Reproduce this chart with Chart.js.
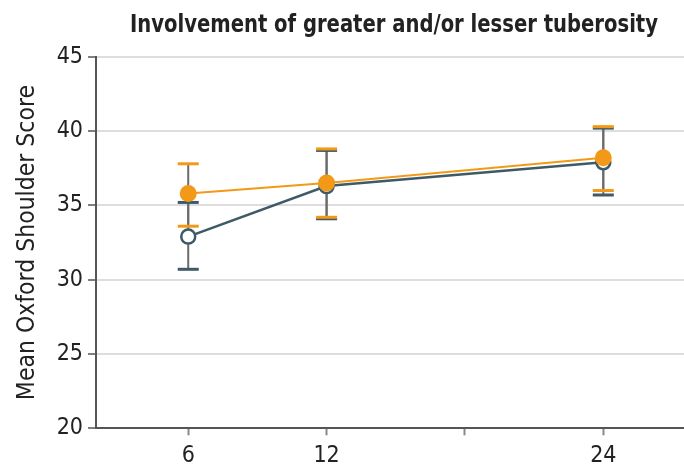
<html lang="en">
  <head>
    <meta charset="UTF-8" />
    <script src="https://cdn.jsdelivr.net/npm/chart.js"></script>
    <title>Oxford Shoulder Score</title>
    <style>
      html, body { margin: 0; padding: 0; background: #fff; }
      #wrap { width: 684px; height: 466px; }
    </style>
  </head>
  <body>
    <div id="wrap"><canvas id="scoreChart"></canvas></div>
    <script>
        // values (months after injury)
        const months = [6, 12, 24];
        const xTicks = [6, 12, 18, 24];
        const yTicks = [20, 25, 30, 35, 40, 45];

        const orangeMean = [35.8, 36.5, 38.2];
        const orangeLow = [33.6, 34.2, 36.0];
        const orangeHigh = [37.8, 38.8, 40.3];

        const slateMean = [32.9, 36.3, 37.9];
        const slateLow = [30.7, 34.1, 35.7];
        const slateHigh = [35.2, 38.7, 40.2];

        const TITLE = 'Involvement of greater and/or lesser tuberosity';
        const ORANGE = '#F29A17';
        const SLATE = '#3E5A66';
        const FONT = '"DejaVu Sans Condensed", "Liberation Sans", sans-serif';

        const toPoints = (xs, ys) => xs.map((x, i) => ({ x: x, y: ys[i] }));

        // whiskers drawn through the scales, under the markers
        const errorBars = {
            id: 'errorBars',
            beforeDatasetsDraw(chart) {
                const ctx = chart.ctx;
                const xs = chart.scales.x, ys = chart.scales.y;
                const groups = [
                    { low: slateLow, high: slateHigh, color: SLATE },
                    { low: orangeLow, high: orangeHigh, color: ORANGE }
                ];
                ctx.save();
                // stems first
                groups.forEach(g => {
                    months.forEach((m, i) => {
                        const px = xs.getPixelForValue(m);
                        ctx.strokeStyle = '#6b6b6b';
                        ctx.lineWidth = 2;
                        ctx.beginPath();
                        ctx.moveTo(px, ys.getPixelForValue(g.low[i]));
                        ctx.lineTo(px, ys.getPixelForValue(g.high[i]));
                        ctx.stroke();
                    });
                });
                // caps
                groups.forEach(g => {
                    months.forEach((m, i) => {
                        const px = xs.getPixelForValue(m);
                        ctx.strokeStyle = g.color;
                        ctx.lineWidth = 3;
                        [g.low[i], g.high[i]].forEach(v => {
                            const py = ys.getPixelForValue(v);
                            ctx.beginPath();
                            ctx.moveTo(px - 10.5, py);
                            ctx.lineTo(px + 10.5, py);
                            ctx.stroke();
                        });
                    });
                });
                ctx.restore();
            }
        };

        // condensed bold heading centred over the plot area
        const heading = {
            id: 'heading',
            afterDraw(chart) {
                const ctx = chart.ctx;
                const area = chart.chartArea;
                ctx.save();
                ctx.font = 'bold 25px ' + FONT;
                ctx.fillStyle = '#222';
                ctx.textAlign = 'center';
                ctx.textBaseline = 'alphabetic';
                ctx.fillText(TITLE, (area.left + area.right) / 2 + 4, 32, 528);
                ctx.restore();
            }
        };

        const ctx = document.getElementById('scoreChart').getContext('2d');

        const scoreChart = new Chart(ctx, {
            type: 'line',
            data: {
                datasets: [
                    {
                        label: 'Orange group',
                        data: toPoints(months, orangeMean),
                        borderColor: ORANGE,
                        borderWidth: 2,
                        backgroundColor: ORANGE,
                        pointRadius: 8.5,
                        pointBorderWidth: 0,
                        pointBackgroundColor: ORANGE,
                        order: 1
                    },
                    {
                        label: 'Slate group',
                        data: toPoints(months, slateMean),
                        borderColor: SLATE,
                        borderWidth: 2.5,
                        pointRadius: 7,
                        pointBorderWidth: 2.5,
                        pointBorderColor: SLATE,
                        pointBackgroundColor: '#ffffff',
                        order: 2
                    }
                ]
            },
            options: {
                responsive: true,
                maintainAspectRatio: false,
                animation: false,
                layout: { autoPadding: false, padding: { top: 56.8, left: 0, right: 0, bottom: 0 } },
                plugins: {
                    legend: { display: false },
                    tooltip: { enabled: false },
                    title: { display: false }
                },
                scales: {
                    x: {
                        type: 'linear',
                        min: 2,
                        max: 27.5,
                        afterBuildTicks: axis => { axis.ticks = xTicks.map(v => ({ value: v })); },
                        afterFit: axis => { axis.height = 37.7; },
                        border: { color: '#555', width: 2 },
                        grid: { drawOnChartArea: false, drawTicks: true, tickLength: 7, tickColor: '#888', tickWidth: 2 },
                        ticks: {
                            color: '#222',
                            padding: 7,
                            maxRotation: 0,
                            font: { family: FONT, size: 23 },
                            callback: v => (v === 18 ? '' : v)
                        }
                    },
                    y: {
                        min: 20,
                        max: 45,
                        afterBuildTicks: axis => { axis.ticks = yTicks.map(v => ({ value: v })); },
                        afterFit: axis => { axis.width = 96; },
                        border: { color: '#555', width: 2 },
                        grid: { color: '#dddddd', lineWidth: 2, tickLength: 8, tickColor: '#555', tickWidth: 1.5 },
                        ticks: {
                            color: '#222',
                            padding: 5,
                            font: { family: FONT, size: 23 }
                        },
                        title: {
                            display: true,
                            text: 'Mean Oxford Shoulder Score',
                            color: '#222',
                            font: { family: FONT, size: 24.5 },
                            padding: { top: 13, bottom: 0 }
                        }
                    }
                }
            },
            plugins: [errorBars, heading]
        });
    </script>
  </body>
</html>
